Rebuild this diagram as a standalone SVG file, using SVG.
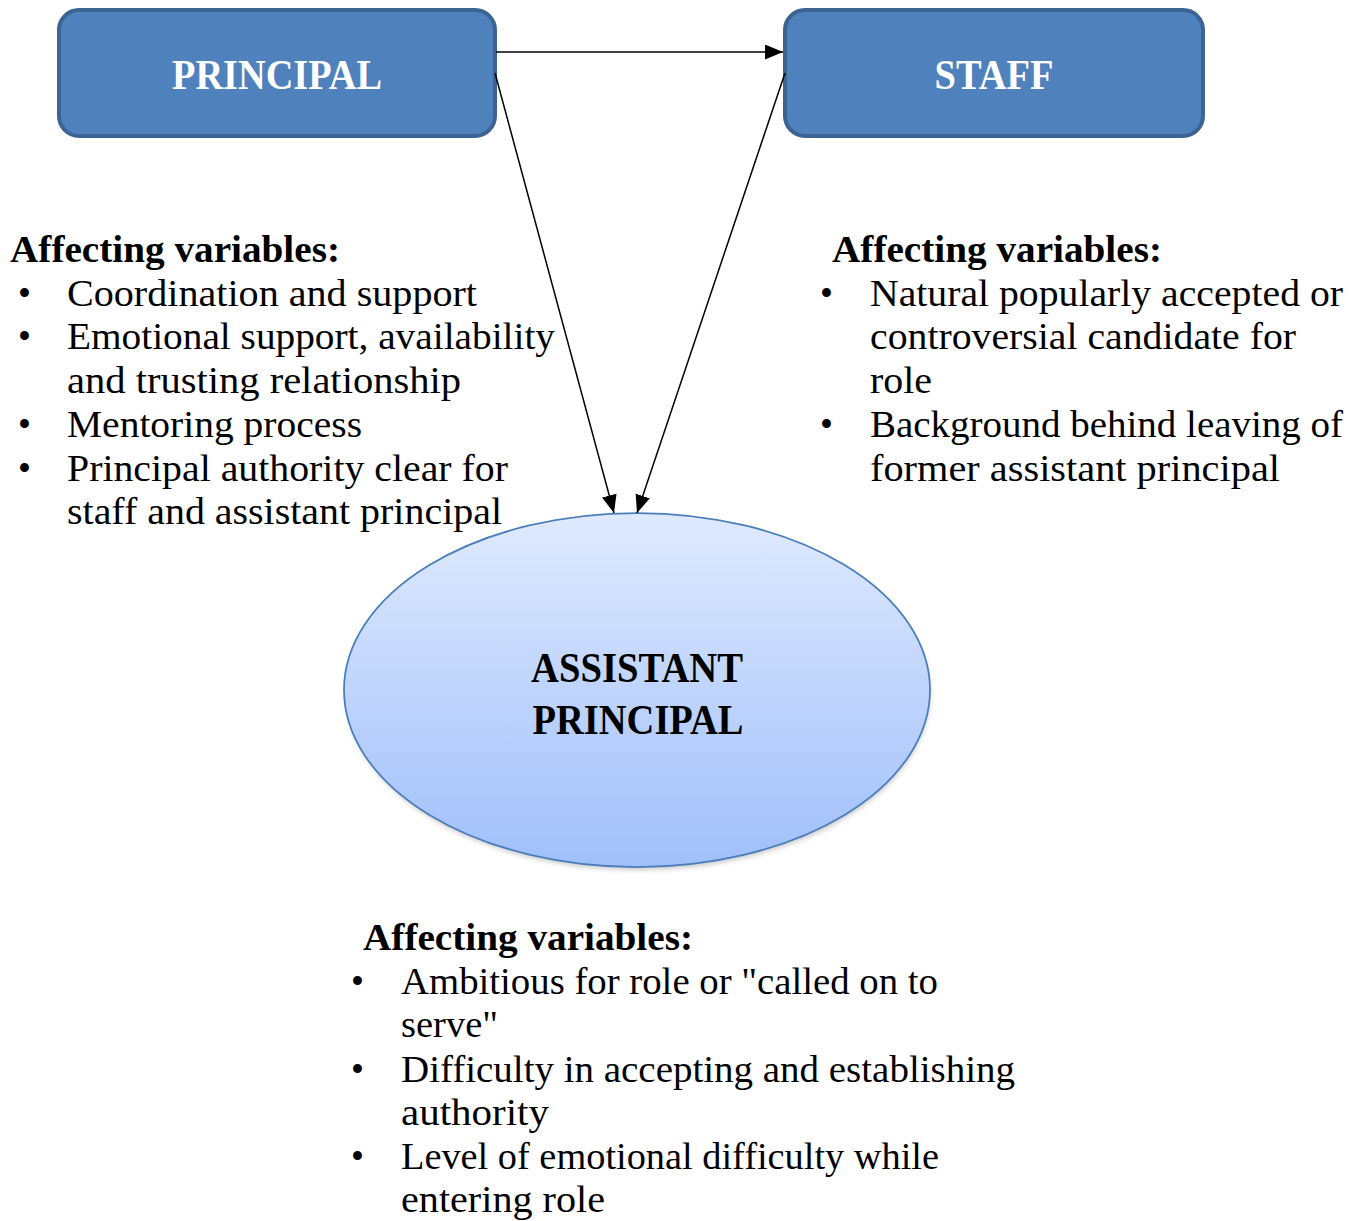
<svg xmlns="http://www.w3.org/2000/svg" width="1362" height="1221" viewBox="0 0 1362 1221">
<style>
.t{font-family:"Liberation Serif","Times New Roman",serif;font-size:37px;fill:#000}
.h{font-family:"Liberation Serif","Times New Roman",serif;font-size:37px;font-weight:bold;fill:#000}
.box{fill:#4F81BD;stroke:#3B6393;stroke-width:4}
.bt{font-family:"Liberation Serif","Times New Roman",serif;font-size:43px;font-weight:bold;fill:#fff;text-anchor:middle}
.et{font-family:"Liberation Serif","Times New Roman",serif;font-size:43px;font-weight:bold;fill:#000;text-anchor:middle}
.c{stroke:#000;stroke-width:1.5;fill:none;marker-end:url(#arr)}
</style>
<defs>
<marker id="arr" markerUnits="userSpaceOnUse" markerWidth="19" markerHeight="16" refX="18" refY="7.5" orient="auto">
<path d="M0,0 L18,7.5 L0,15 z" fill="#000"/>
</marker>
<linearGradient id="eg" x1="0" y1="0" x2="0" y2="1">
<stop offset="0" stop-color="#DFEAFE"/>
<stop offset="1" stop-color="#A0BFFA"/>
</linearGradient>
<filter id="sh" x="-10%" y="-10%" width="120%" height="130%">
<feGaussianBlur stdDeviation="2.5"/>
</filter>
</defs>
<rect width="1362" height="1221" fill="#fff"/>

<g id="principal">
<rect class="box" x="59" y="10" width="436" height="126" rx="20"/>
<text class="bt" x="277" y="89" textLength="210" lengthAdjust="spacingAndGlyphs">PRINCIPAL</text>
</g>

<g id="staff">
<rect class="box" x="785" y="10" width="418" height="126" rx="20"/>
<text class="bt" x="994" y="89" textLength="119" lengthAdjust="spacingAndGlyphs">STAFF</text>
</g>

<g id="assistant-principal">
<ellipse cx="638" cy="694" rx="292" ry="176" fill="#888" opacity="0.45" filter="url(#sh)"/>
<ellipse cx="637" cy="690" rx="293" ry="177" fill="url(#eg)" stroke="#4A7EBB" stroke-width="1.75"/>
<text class="et" x="637" y="682" textLength="212" lengthAdjust="spacingAndGlyphs">ASSISTANT</text>
<text class="et" x="638" y="734" textLength="211" lengthAdjust="spacingAndGlyphs">PRINCIPAL</text>
</g>

<g id="connectors">
<line class="c" x1="496" y1="52" x2="783" y2="52"/>
<line class="c" x1="495" y1="73" x2="614" y2="513"/>
<line class="c" x1="785" y1="73" x2="637" y2="513"/>
</g>

<g id="principal-variables">
<text class="h" x="10" y="262" textLength="330" lengthAdjust="spacingAndGlyphs">Affecting variables:</text>
<text class="t" x="18" y="306">•</text>
<text class="t" x="67" y="306" textLength="410" lengthAdjust="spacingAndGlyphs">Coordination and support</text>
<text class="t" x="18" y="349">•</text>
<text class="t" x="67" y="349" textLength="488" lengthAdjust="spacingAndGlyphs">Emotional support, availability</text>
<text class="t" x="67" y="393" textLength="394" lengthAdjust="spacingAndGlyphs">and trusting relationship</text>
<text class="t" x="18" y="437">•</text>
<text class="t" x="67" y="437" textLength="295" lengthAdjust="spacingAndGlyphs">Mentoring process</text>
<text class="t" x="18" y="481">•</text>
<text class="t" x="67" y="481" textLength="441" lengthAdjust="spacingAndGlyphs">Principal authority clear for</text>
<text class="t" x="67" y="524" textLength="435" lengthAdjust="spacingAndGlyphs">staff and assistant principal</text>
</g>

<g id="staff-variables">
<text class="h" x="832" y="262" textLength="330" lengthAdjust="spacingAndGlyphs">Affecting variables:</text>
<text class="t" x="820" y="306">•</text>
<text class="t" x="870" y="306" textLength="473" lengthAdjust="spacingAndGlyphs">Natural popularly accepted or</text>
<text class="t" x="870" y="349" textLength="426" lengthAdjust="spacingAndGlyphs">controversial candidate for</text>
<text class="t" x="870" y="393" textLength="62" lengthAdjust="spacingAndGlyphs">role</text>
<text class="t" x="820" y="437">•</text>
<text class="t" x="870" y="437" textLength="473" lengthAdjust="spacingAndGlyphs">Background behind leaving of</text>
<text class="t" x="870" y="481" textLength="410" lengthAdjust="spacingAndGlyphs">former assistant principal</text>
</g>

<g id="assistant-variables">
<text class="h" x="363" y="950" textLength="330" lengthAdjust="spacingAndGlyphs">Affecting variables:</text>
<text class="t" x="351" y="994">•</text>
<text class="t" x="401" y="994" textLength="537" lengthAdjust="spacingAndGlyphs">Ambitious for role or "called on to</text>
<text class="t" x="401" y="1037" textLength="97" lengthAdjust="spacingAndGlyphs">serve"</text>
<text class="t" x="351" y="1082">•</text>
<text class="t" x="401" y="1082" textLength="614" lengthAdjust="spacingAndGlyphs">Difficulty in accepting and establishing</text>
<text class="t" x="401" y="1125" textLength="148" lengthAdjust="spacingAndGlyphs">authority</text>
<text class="t" x="351" y="1169">•</text>
<text class="t" x="401" y="1169" textLength="538" lengthAdjust="spacingAndGlyphs">Level of emotional difficulty while</text>
<text class="t" x="401" y="1212" textLength="204" lengthAdjust="spacingAndGlyphs">entering role</text>
</g>
</svg>
